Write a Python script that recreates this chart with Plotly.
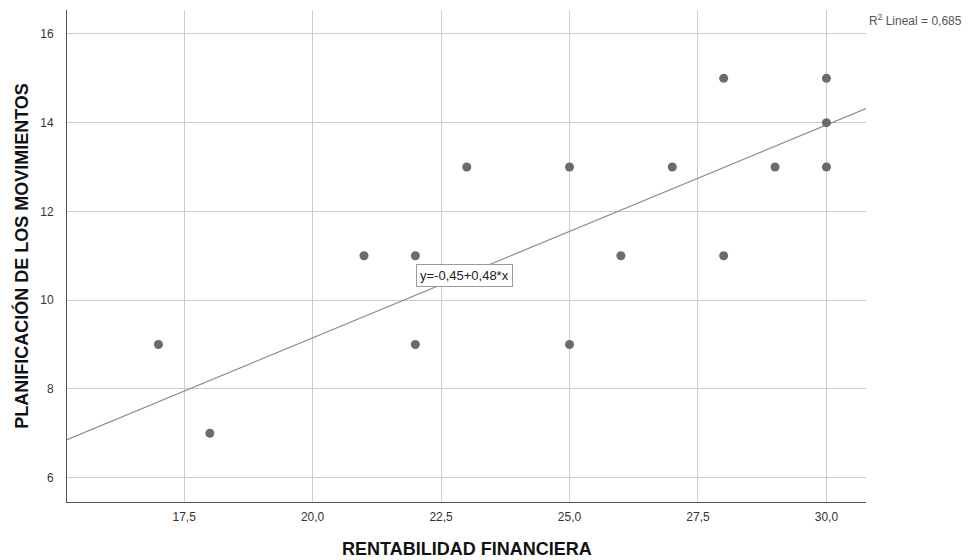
import plotly.graph_objects as go

# Observations: financial return vs. movement planning
rentabilidad = [17, 18, 21, 22, 22, 23, 25, 25, 26, 27, 28, 28, 29, 30, 30, 30]
planificacion = [9, 7, 11, 11, 9, 13, 13, 9, 11, 13, 15, 11, 13, 15, 14, 13]

# Linear fit reported for the data
intercepto = -0.45
pendiente = 0.48
r2 = 0.685

x_ticks = [17.5, 20.0, 22.5, 25.0, 27.5, 30.0]
y_ticks = [6, 8, 10, 12, 14, 16]

x_range = [15.22, 30.77]
y_range = [5.45, 16.54]

font_family = "Liberation Sans, Arial, sans-serif"

fig = go.Figure()

fit_x = list(x_range)
fit_y = [intercepto + pendiente * v for v in fit_x]
fig.add_trace(go.Scatter(
    x=fit_x, y=fit_y, mode="lines",
    line=dict(color="#8c8c8c", width=1.2),
    hoverinfo="skip", showlegend=False,
))

fig.add_trace(go.Scatter(
    x=rentabilidad, y=planificacion, mode="markers",
    marker=dict(color="#6b6b6b", size=9, line=dict(width=0)),
    showlegend=False,
))

fig.add_annotation(
    x=22.96, y=10.56, xref="x", yref="y",
    text="y=-0,45+0,48*x", showarrow=False,
    font=dict(family=font_family, size=13, color="#222222"),
    bgcolor="white", bordercolor="#9a9a9a", borderwidth=1, borderpad=3,
)

fig.add_annotation(
    x=1.0, y=1.0, xref="paper", yref="paper",
    text="R<sup>2</sup> Lineal = 0,685", showarrow=False,
    xanchor="left", yanchor="middle", xshift=1, yshift=-10,
    font=dict(family=font_family, size=12, color="#555555"),
)

# x-axis title placed below the tick labels
fig.add_annotation(
    x=0.5, y=0, xref="paper", yref="paper",
    text="<b>RENTABILIDAD FINANCIERA</b>", showarrow=False,
    xanchor="center", yanchor="middle", yshift=-47,
    font=dict(family=font_family, size=18, color="#111111"),
)

fig.update_layout(
    width=975, height=560,
    margin=dict(l=67, r=109, t=10, b=58),
    plot_bgcolor="white", paper_bgcolor="white",
    separators=",.",
    font=dict(family=font_family, color="#333333"),
    xaxis=dict(
        range=x_range, tickvals=x_ticks, tickformat=".1f",
        showgrid=True, gridcolor="#cccccc", gridwidth=1,
        showline=True, linecolor="#555555", linewidth=1,
        zeroline=False, ticks="", ticklen=0, ticklabelstandoff=4,
        tickfont=dict(size=12, color="#333333"),
        automargin=False,
    ),
    yaxis=dict(
        range=y_range, tickvals=y_ticks, tickformat="d",
        showgrid=True, gridcolor="#cccccc", gridwidth=1,
        showline=True, linecolor="#555555", linewidth=1,
        zeroline=False, ticks="", ticklen=0, ticklabelstandoff=10,
        tickfont=dict(size=12, color="#333333"),
        title=dict(text="<b>PLANIFICACIÓN DE LOS MOVIMIENTOS</b>", standoff=6,
                   font=dict(size=18, color="#111111")),
    ),
)

fig.write_html("out.html")
